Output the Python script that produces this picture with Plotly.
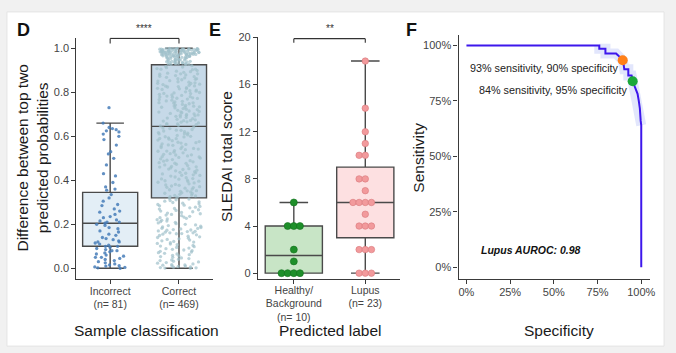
import plotly.graph_objects as go

W, H = 676, 353
FONT = "Liberation Sans, Arial, sans-serif"

# ---------------- Panel D data ----------------
d_categories = ["Incorrect<br>(n= 81)", "Correct<br>(n= 469)"]
d_q1 = [0.10, 0.32]
d_median = [0.205, 0.645]
d_q3 = [0.345, 0.925]
d_lower = [0.0, 0.0]
d_upper = [0.66, 1.0]

d_incorrect = [
    0.73, 0.66, 0.64, 0.635, 0.63, 0.625, 0.62, 0.61, 0.60, 0.585, 0.56, 0.53, 0.52, 0.50,
    0.47, 0.43, 0.42, 0.39, 0.37, 0.36, 0.355,
    0.335, 0.32, 0.305, 0.29, 0.285, 0.27, 0.26, 0.255, 0.245, 0.235, 0.23, 0.22, 0.215,
    0.21, 0.21, 0.205, 0.20, 0.195, 0.185, 0.18, 0.17, 0.165, 0.155, 0.15, 0.14, 0.135,
    0.13, 0.125, 0.12, 0.12, 0.115, 0.11, 0.105, 0.10, 0.10,
    0.095, 0.09, 0.085, 0.08, 0.08, 0.075, 0.07, 0.065, 0.06, 0.055, 0.05, 0.05, 0.045,
    0.04, 0.035, 0.03, 0.025, 0.02, 0.015, 0.012, 0.01, 0.006, 0.004, 0.002, 0.0,
]

d_correct_top = [
    1.000, 0.998, 0.999, 0.997, 0.996, 1.000, 0.995, 0.994, 0.999, 0.993, 0.998, 0.992,
    0.991, 0.997, 0.990, 0.996, 0.989, 0.995, 0.988, 0.994, 0.987, 0.993, 0.986, 0.992,
    0.985, 0.991, 0.984, 0.990, 0.983, 0.989, 0.982, 0.988, 0.981, 0.987, 0.980, 0.986,
    0.979, 0.985, 0.978, 0.984, 0.977, 0.983, 0.976, 0.982, 0.975, 0.981, 0.974, 0.980,
    0.973, 0.979, 0.972, 0.978, 0.971, 0.977, 0.970, 0.976, 0.969, 0.975, 0.968, 0.974,
    0.967, 0.973, 0.966, 0.972, 0.965, 0.971, 0.964, 0.970, 0.963, 0.969, 0.962, 0.967,
    0.961, 0.965, 0.960, 0.963, 0.958, 0.961, 0.956, 0.959, 0.954, 0.957, 0.952, 0.955,
    0.950, 0.953, 0.948, 0.951, 0.946, 0.949, 0.944, 0.947, 0.942, 0.945, 0.940, 0.943,
    0.938, 0.941, 0.936, 0.939, 0.934, 0.937, 0.932, 0.935, 0.930, 0.933, 0.928, 0.931,
    0.926, 0.929, 0.927, 0.999, 0.998, 0.996, 0.994, 0.991, 0.986, 0.983,
]
d_correct_rest = [
    0.921, 0.917, 0.915, 0.912, 0.908, 0.905, 0.903, 0.899, 0.896, 0.894, 0.891, 0.887,
    0.884, 0.882, 0.879, 0.876, 0.873, 0.871, 0.868, 0.866, 0.862, 0.859, 0.857, 0.853,
    0.851, 0.848, 0.846, 0.843, 0.840, 0.837, 0.835, 0.832, 0.829, 0.826, 0.824, 0.821,
    0.818, 0.816, 0.813, 0.810, 0.807, 0.805, 0.802, 0.799, 0.797, 0.794, 0.791, 0.788,
    0.786, 0.783, 0.780, 0.778, 0.775, 0.772, 0.769, 0.767, 0.764, 0.761, 0.759, 0.756,
    0.753, 0.751, 0.748, 0.745, 0.742, 0.740, 0.737, 0.734, 0.732, 0.729, 0.726, 0.723,
    0.721, 0.718, 0.715, 0.713, 0.710, 0.707, 0.704, 0.702, 0.699, 0.696, 0.694, 0.691,
    0.688, 0.685, 0.683, 0.680, 0.677, 0.675, 0.672, 0.669, 0.666, 0.664, 0.661, 0.658,
    0.656, 0.653, 0.650, 0.647, 0.862, 0.841, 0.817, 0.795, 0.773, 0.752, 0.733, 0.711,
    0.693, 0.671, 0.654, 0.884, 0.905, 0.828, 0.779, 0.738, 0.697,
    0.642, 0.638, 0.635, 0.631, 0.628, 0.624, 0.621, 0.617, 0.614, 0.611, 0.607, 0.604,
    0.600, 0.597, 0.593, 0.590, 0.587, 0.583, 0.580, 0.576, 0.573, 0.569, 0.566, 0.563,
    0.559, 0.556, 0.552, 0.549, 0.545, 0.542, 0.539, 0.535, 0.532, 0.528, 0.525, 0.521,
    0.518, 0.515, 0.511, 0.508, 0.504, 0.501, 0.497, 0.494, 0.491, 0.487, 0.484, 0.480,
    0.477, 0.473, 0.470, 0.467, 0.463, 0.460, 0.456, 0.453, 0.449, 0.446, 0.443, 0.439,
    0.436, 0.432, 0.429, 0.425, 0.422, 0.419, 0.415, 0.412, 0.408, 0.405, 0.401, 0.398,
    0.395, 0.391, 0.388, 0.384, 0.381, 0.377, 0.374, 0.371, 0.367, 0.364, 0.360, 0.357,
    0.353, 0.350, 0.347, 0.343, 0.340, 0.336, 0.333, 0.329, 0.326, 0.323, 0.612, 0.589,
    0.561, 0.533, 0.506, 0.478, 0.451, 0.423, 0.396, 0.368, 0.341, 0.627, 0.598, 0.571,
    0.544, 0.516, 0.489, 0.461, 0.434, 0.406, 0.379, 0.352, 0.331,
    0.318, 0.315, 0.311, 0.308, 0.305, 0.302, 0.299, 0.296, 0.293, 0.290, 0.287, 0.284,
    0.281, 0.278, 0.275, 0.272, 0.269, 0.266, 0.263, 0.260, 0.257, 0.254, 0.251, 0.248,
    0.245, 0.242, 0.239, 0.236, 0.233, 0.230, 0.227, 0.224, 0.221, 0.218, 0.215, 0.212,
    0.209, 0.206, 0.203, 0.200, 0.197, 0.194, 0.191, 0.188, 0.185, 0.182, 0.179, 0.176,
    0.173, 0.170, 0.167, 0.164, 0.161, 0.158, 0.155, 0.152, 0.149, 0.146, 0.143, 0.140,
    0.137, 0.134, 0.131, 0.128, 0.125, 0.122, 0.119, 0.116, 0.113, 0.110, 0.107, 0.104,
    0.101, 0.098, 0.095, 0.092, 0.089, 0.086, 0.083, 0.080, 0.077, 0.074, 0.071, 0.068,
    0.065, 0.062, 0.059, 0.056, 0.053, 0.050, 0.047, 0.044, 0.041, 0.038, 0.035, 0.032,
    0.029, 0.026, 0.023, 0.020, 0.017, 0.014, 0.011, 0.008, 0.005, 0.002, 0.000, 0.001,
    0.003, 0.006, 0.010, 0.015, 0.161, 0.168, 0.174, 0.181, 0.157,
]

# ---------------- Panel E data ----------------
e_categories = ["Healthy/<br>Background<br>(n= 10)", "Lupus<br>(n= 23)"]
e_healthy = [0, 0, 0, 0, 1, 2, 4, 4, 4, 6]
e_lupus = [0, 0, 0, 2, 2, 2, 4, 4, 4, 5, 6, 6, 6, 6, 7, 8, 8, 10, 10, 11, 12, 14, 18]
e_q1 = [0, 3]
e_median = [1.5, 6]
e_q3 = [4, 9]
e_lower = [0, 0]
e_upper = [6, 18]

# ---------------- Panel F data ----------------
roc_spec = [0.0, 0.76, 0.76, 0.795, 0.795, 0.856, 0.868, 0.88, 0.894, 0.90, 0.903, 0.926,
            0.926, 0.945, 0.951, 0.958, 0.964, 0.972, 0.979, 0.986, 0.992, 0.997, 1.0, 1.0]
roc_sens = [1.0, 1.0, 0.985, 0.985, 0.964, 0.964, 0.955, 0.945, 0.933, 0.91, 0.893, 0.893,
            0.864, 0.864, 0.839, 0.825, 0.812, 0.795, 0.782, 0.75, 0.716, 0.66, 0.64, 0.0]
op_spec = [0.894, 0.951]
op_sens = [0.933, 0.839]
op_colors = ["#ff8019", "#1aa83a"]
op_labels = ["93% sensitivity, 90% specificity", "84% sensitivity, 95% specificity"]
auroc_label = "Lupus AUROC: 0.98"
f_ticks = [0, 0.25, 0.5, 0.75, 1.0]
f_ticktext = ["0%", "25%", "50%", "75%", "100%"]

AX = "#3a3a3a"
BOXLINE = "#4a4a4a"

fig = go.Figure()

# ---- D boxes ----
d_fill = ["#e3eef6", "#c6d9e8"]
d_pt = ["rgba(70,125,185,0.85)", "rgba(160,192,203,0.7)"]
for i in range(2):
    fig.add_trace(go.Box(
        x=[i], q1=[d_q1[i]], median=[d_median[i]], q3=[d_q3[i]],
        lowerfence=[d_lower[i]], upperfence=[d_upper[i]], orientation="v",
        width=0.8, whiskerwidth=0.5, boxpoints=False, fillcolor=d_fill[i],
        line=dict(color=BOXLINE, width=1.4), xaxis="x", yaxis="y", showlegend=False))
for i, vals in enumerate([d_incorrect, d_correct_top, d_correct_rest]):
    pos = 0 if i == 0 else 1
    col = d_pt[0] if i == 0 else d_pt[1]
    jit = 0.7 if i == 0 else 0.8
    fig.add_trace(go.Box(
        x=[pos] * len(vals), y=vals, boxpoints="all", jitter=jit, pointpos=0,
        width=0.8, fillcolor="rgba(0,0,0,0)", line=dict(color="rgba(0,0,0,0)", width=0),
        marker=dict(size=3.3, color=col), xaxis="x", yaxis="y", showlegend=False,
        hoveron="points"))

# ---- E boxes ----
e_fill = ["#c8e5c6", "#fde0e1"]
for i in range(2):
    fig.add_trace(go.Box(
        x=[i], q1=[e_q1[i]], median=[e_median[i]], q3=[e_q3[i]],
        lowerfence=[e_lower[i]], upperfence=[e_upper[i]], orientation="v",
        width=0.8, whiskerwidth=0.5, boxpoints=False, fillcolor=e_fill[i],
        line=dict(color=BOXLINE, width=1.4), xaxis="x2", yaxis="y2", showlegend=False))

step = 0.086
def dot_offsets(vals, center):
    xs = []
    counts = {}
    for v in vals:
        counts[v] = counts.get(v, 0) + 1
    seen = {}
    for v in vals:
        k = counts[v]
        j = seen.get(v, 0)
        seen[v] = j + 1
        xs.append(center + (j - k // 2) * step)
    return xs

fig.add_trace(go.Scatter(
    x=dot_offsets(e_healthy, 0), y=e_healthy, mode="markers", xaxis="x2", yaxis="y2",
    marker=dict(size=7, color="#1e8f2a", line=dict(color="#13701d", width=0.6)),
    showlegend=False))
fig.add_trace(go.Scatter(
    x=dot_offsets(e_lupus, 1), y=e_lupus, mode="markers", xaxis="x2", yaxis="y2",
    marker=dict(size=6.5, color="#f29a9c", line=dict(color="#d9797c", width=0.6)),
    showlegend=False))

# ---- F ROC ----
band_idx = [i for i in range(len(roc_spec)) if roc_spec[i] >= 0.7 and roc_sens[i] >= 0.6]
fig.add_trace(go.Scatter(
    x=[roc_spec[i] for i in band_idx], y=[roc_sens[i] for i in band_idx],
    mode="lines", xaxis="x3", yaxis="y3",
    line=dict(color="rgba(150,165,245,0.28)", width=10), showlegend=False))
fig.add_trace(go.Scatter(
    x=roc_spec, y=roc_sens, mode="lines", xaxis="x3", yaxis="y3",
    line=dict(color="#3d17ec", width=2), showlegend=False))
fig.add_trace(go.Scatter(
    x=op_spec, y=op_sens, mode="markers", xaxis="x3", yaxis="y3",
    marker=dict(size=10, color=op_colors), showlegend=False))

def px_x(x):
    return x / W

def px_y(y):
    return 1 - y / H

axis_common = dict(showline=True, linecolor=AX, linewidth=1.3, ticks="outside",
                   ticklen=4, tickcolor=AX, tickwidth=1.2, showgrid=False,
                   zeroline=False, tickfont=dict(size=11, color="#444", family=FONT),
                   fixedrange=True)
xcat_common = dict(axis_common)
xcat_common["tickfont"] = dict(size=10.5, color="#444", family=FONT)

fig.update_layout(
    width=W, height=H, margin=dict(l=0, r=0, t=0, b=0),
    paper_bgcolor="#f1f1f1", plot_bgcolor="rgba(0,0,0,0)", boxmode="overlay",
    font=dict(family=FONT, color="#222"),
    xaxis=dict(domain=[px_x(77), px_x(215)], range=[-0.49, 1.5], tickvals=[0, 1],
               ticktext=d_categories, anchor="y", ticklabelstandoff=-2, **xcat_common),
    yaxis=dict(domain=[px_y(278), px_y(33)], range=[-0.049, 1.049],
               tickvals=[0, 0.2, 0.4, 0.6, 0.8, 1.0], tickformat=".1f", anchor="x",
               **axis_common),
    xaxis2=dict(domain=[px_x(260), px_x(403)], range=[-0.5, 1.486], tickvals=[0, 1],
                ticktext=e_categories, anchor="y2", ticklabelstandoff=-3, **xcat_common),
    yaxis2=dict(domain=[px_y(278), px_y(32)], range=[-0.5, 20.08],
                tickvals=[0, 4, 8, 12, 16, 20], anchor="x2", **axis_common),
    xaxis3=dict(domain=[px_x(462), px_x(655)], range=[-0.045, 1.051], tickvals=f_ticks,
                ticktext=f_ticktext, anchor="y3", ticklabelstandoff=-1, **axis_common),
    yaxis3=dict(domain=[px_y(278), px_y(30)], range=[-0.053, 1.049], tickvals=f_ticks,
                ticktext=f_ticktext, anchor="x3", **axis_common),
)

shapes = [
    dict(type="rect", xref="paper", yref="paper", x0=px_x(7), x1=px_x(669),
         y0=px_y(346), y1=px_y(7), fillcolor="white",
         line=dict(color="#e4e4e4", width=1), layer="below"),
]
# significance brackets
for xr, yr, ylo, yhi in [("x", "y", 1.022, 1.045), ("x2", "y2", 19.55, 19.9)]:
    for (x0, y0, x1, y1) in [(0, ylo, 0, yhi), (0, yhi, 1, yhi), (1, yhi, 1, ylo)]:
        shapes.append(dict(type="line", xref=xr, yref=yr, x0=x0, y0=y0, x1=x1, y1=y1,
                           line=dict(color="#333", width=1.1)))
fig.update_layout(shapes=shapes)

title_font = dict(size=15.5, color="#1a1a1a", family=FONT)
ann = [
    dict(text="<b>D</b>", x=px_x(24), y=px_y(25), font=dict(size=18, color="#111")),
    dict(text="<b>E</b>", x=px_x(217), y=px_y(25), font=dict(size=18, color="#111")),
    dict(text="<b>F</b>", x=px_x(415), y=px_y(25), font=dict(size=18, color="#111")),
    dict(text="Difference between top two<br>predicted probabilities", x=px_x(33),
         y=px_y(155), textangle=-90, font=title_font),
    dict(text="SLEDAI total score", x=px_x(229), y=px_y(154), textangle=-90, font=title_font),
    dict(text="Sensitivity", x=px_x(422), y=px_y(155), textangle=-90, font=title_font),
    dict(text="Sample classification", x=px_x(147.5), y=px_y(330), font=title_font),
    dict(text="Predicted label", x=px_x(332.5), y=px_y(330), font=title_font),
    dict(text="Specificity", x=px_x(563), y=px_y(330), font=title_font),
    dict(text="****", x=px_x(145.5), y=px_y(24), font=dict(size=10, color="#333")),
    dict(text="**", x=px_x(332), y=px_y(24), font=dict(size=10, color="#333")),
]
for a in ann:
    a.update(xref="paper", yref="paper", showarrow=False, xanchor="center", yanchor="middle")
ann.append(dict(text=op_labels[0], x=0.885, y=0.898, xref="x3", yref="y3", showarrow=False,
                xanchor="right", yanchor="middle", font=dict(size=10.8, color="#222")))
ann.append(dict(text=op_labels[1], x=0.937, y=0.80, xref="x3", yref="y3", showarrow=False,
                xanchor="right", yanchor="middle", font=dict(size=10.8, color="#222")))
ann.append(dict(text="<b><i>" + auroc_label + "</i></b>", x=0.074, y=0.076, xref="x3",
                yref="y3", showarrow=False, xanchor="left", yanchor="middle",
                font=dict(size=10.5, color="#111")))
fig.update_layout(annotations=ann)

fig.write_html("out.html")
